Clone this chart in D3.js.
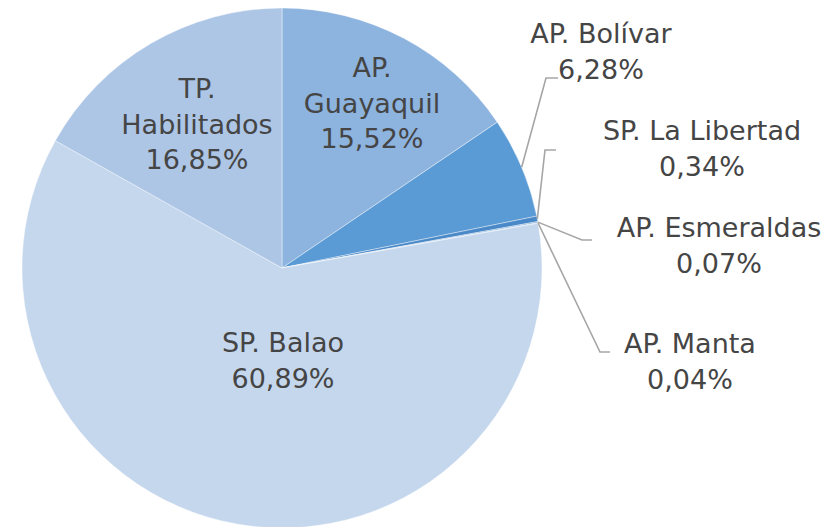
<!DOCTYPE html>
<html>
<head>
<meta charset="utf-8">
<script src="https://cdn.jsdelivr.net/npm/d3@7"></script>
<style>
  body { margin: 0; background: #fff; }
  text { font-family: "Century Gothic", "DejaVu Sans", sans-serif; fill: #454545; }
</style>
</head>
<body>
<div class="chartDiv"></div>
<script>
// slices clockwise from 12 o'clock
var names = ["AP. Guayaquil", "AP. Bolívar", "SP. La Libertad", "AP. Esmeraldas", "AP. Manta", "SP. Balao", "TP. Habilitados"];
var shares = [15.52, 6.28, 0.34, 0.07, 0.04, 60.89, 16.85];
var labelLines = [["AP.", "Guayaquil", "15,52%"], ["AP. Bolívar", "6,28%"], ["SP. La Libertad", "0,34%"],
                  ["AP. Esmeraldas", "0,07%"], ["AP. Manta", "0,04%"], ["SP. Balao", "60,89%"], ["TP.", "Habilitados", "16,85%"]];
var colors = ["#8db3df", "#5b9bd5", "#4a89c8", "#6fa3d6", "#9dbde3", "#c5d7ed", "#adc6e6"];

var width = 831, height = 527,
    cx = 282, cy = 268, r = 260;

// label placement: inside (x,y of first baseline) or outside with elbow
var layout = [
  {inside: true, x: 372, y: 77},
  {x: 601, y: 43, ex: 546, ey: 78, len: 12},
  {x: 702, y: 140, ex: 545, ey: 150, len: 11},
  {x: 719, y: 237, ex: 582, ey: 240, len: 10},
  {x: 690, y: 353, ex: 600, ey: 352, len: 10},
  {inside: true, x: 283, y: 352},
  {inside: true, x: 197, y: 98}
];
var lineH = 35.5;

var svg = d3.select('div.chartDiv').append('svg')
  .attr('width', width).attr('height', height);

var g = svg.append('g').attr('transform', 'translate(' + cx + ',' + cy + ')');

var pie = d3.pie().sort(null).value(function(d) { return d; });
var arcs = pie(shares);
var arc = d3.arc().innerRadius(0).outerRadius(r);

g.selectAll('path.slice').data(arcs).enter().append('path')
  .attr('class', 'slice')
  .attr('d', arc)
  .attr('fill', function(d, i) { return colors[i]; })
  .attr('stroke', '#ffffff').attr('stroke-opacity', 0.5).attr('stroke-width', 0.8);

// leader lines start at slice mid angle on the rim
var rim = d3.arc().innerRadius(r).outerRadius(r);
arcs.forEach(function(d, i) {
  var L = layout[i];
  if (L.inside) return;
  var p = rim.centroid(d);
  svg.append('polyline')
    .attr('points', [[cx + p[0], cy + p[1]], [L.ex, L.ey], [L.ex + L.len, L.ey]].map(function(q) { return q.join(','); }).join(' '))
    .attr('fill', 'none').attr('stroke', '#a6a6a6').attr('stroke-width', 1.6);
});

labelLines.forEach(function(lines, i) {
  var L = layout[i];
  var t = svg.append('text').attr('text-anchor', 'middle').attr('font-size', 27);
  lines.forEach(function(s, j) {
    t.append('tspan').attr('x', L.x).attr('y', L.y + j * lineH).text(s);
  });
});
</script>
</body>
</html>
